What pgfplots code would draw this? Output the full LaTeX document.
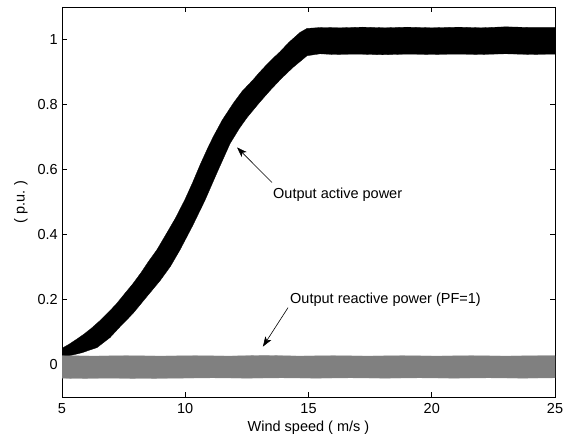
\documentclass[border=0pt]{standalone}
\usepackage{fontspec}
\setmainfont{Liberation Sans}
\usepackage{pgfplots}
\pgfplotsset{compat=1.18}
\usetikzlibrary{arrows.meta}
\definecolor{rgray}{RGB}{128,128,128}
\begin{document}
\begin{tikzpicture}[font=\fontsize{14.5bp}{17bp}\selectfont]
\useasboundingbox (-62bp,-42bp) rectangle (505bp,397bp);
\begin{axis}[
  at={(0,0)}, anchor=south west,
  scale only axis, width=493bp, height=390bp,
  xmin=5, xmax=25, ymin=-0.1, ymax=1.1,
  xtick={5,10,15,20,25}, xticklabels={5,10,15,20,25},
  ytick={0,0.2,0.4,0.6,0.8,1}, yticklabels={0,0.2,0.4,0.6,0.8,1},
  tick align=inside, major tick length=5bp,
  tick style={black, line width=0.6bp},
  axis line style={black, line width=0.8bp},
  xticklabel style={anchor=base, inner sep=0pt, yshift=-16bp},
  yticklabel style={anchor=east, inner sep=0pt, xshift=-4bp},
  xlabel={Wind speed ( m/s )},
  ylabel={( p.u. )},
  xlabel style={at={(axis description cs:0.5,-0.0897)}, anchor=base, inner sep=0pt},
  ylabel style={at={(axis description cs:-0.0832,0.5)}, anchor=center, inner sep=0pt},
  clip=true,
]
% active power band (upper envelope, then lower envelope reversed)
\addplot[fill=black, draw=black, line width=0.3bp] coordinates {
 (5.00,0.050) (5.3,0.063) (5.6,0.078) (5.9,0.094) (6.2,0.112) (6.54,0.135)
 (6.9,0.162) (7.2,0.186) (7.5,0.214) (7.88,0.249) (8.2,0.282) (8.5,0.316)
 (8.85,0.353) (9.2,0.398) (9.6,0.450) (9.99,0.508) (10.3,0.560) (10.6,0.614)
 (10.9,0.664) (11.13,0.700) (11.5,0.752) (11.94,0.803) (12.3,0.840) (12.75,0.876)
 (13.0,0.898) (13.32,0.924) (13.6,0.945) (13.84,0.962) (14.2,0.991) (14.66,1.022)
 (14.94,1.034) (15.5,1.037) (16.3,1.036) (17.2,1.038) (18.1,1.036) (19.0,1.038)
 (20.0,1.036) (21.1,1.038) (22.0,1.036) (23.0,1.039) (24.0,1.037) (25.0,1.037)
 (25.0,0.955) (24.0,0.954) (23.0,0.956) (22.0,0.954) (21.0,0.955) (20.0,0.954)
 (19.0,0.955) (18.0,0.953) (17.0,0.955) (16.0,0.954) (15.47,0.956) (14.94,0.950)
 (14.37,0.914) (13.9,0.880) (13.44,0.843) (13.0,0.805) (12.51,0.760) (12.2,0.727)
 (11.82,0.680) (11.3,0.592) (10.8,0.505) (10.3,0.427) (9.79,0.353) (9.4,0.302)
 (8.98,0.258) (8.4,0.205) (7.88,0.157) (7.4,0.120) (6.95,0.083) (6.42,0.052)
 (5.8,0.036) (5.2,0.025) (5.00,0.022)
};
% reactive power band
\addplot[fill=rgray, draw=rgray, line width=0.3bp] coordinates {
 (5.0,0.027) (6.3,0.026) (7.6,0.027) (9.0,0.026) (10.4,0.027) (11.8,0.026)
 (13.2,0.028) (14.6,0.026) (16.0,0.027) (17.4,0.026) (18.8,0.027) (20.2,0.026)
 (21.6,0.027) (23.0,0.026) (24.4,0.027) (25.0,0.027)
 (25.0,-0.041) (23.7,-0.042) (22.3,-0.041) (20.9,-0.042) (19.5,-0.041) (18.1,-0.042)
 (16.7,-0.041) (15.3,-0.042) (13.9,-0.041) (12.5,-0.042) (11.1,-0.041) (9.7,-0.042)
 (8.3,-0.043) (6.9,-0.042) (5.5,-0.043) (5.0,-0.042)
};
% annotations
\draw[line width=0.6bp, -{Stealth[length=10bp, width=7bp, inset=2.5bp]}]
  (axis cs:13.52,0.56) -- (axis cs:12.1,0.668);
\node[anchor=base west, inner sep=0pt] at (axis cs:13.56,0.511) {Output active power};
\draw[line width=0.6bp, -{Stealth[length=10bp, width=7bp, inset=2.5bp]}]
  (axis cs:14.17,0.175) -- (axis cs:13.15,0.055);
\node[anchor=base west, inner sep=0pt] at (axis cs:14.25,0.189) {Output reactive power (PF=1)};
\end{axis}
\end{tikzpicture}
\end{document}
